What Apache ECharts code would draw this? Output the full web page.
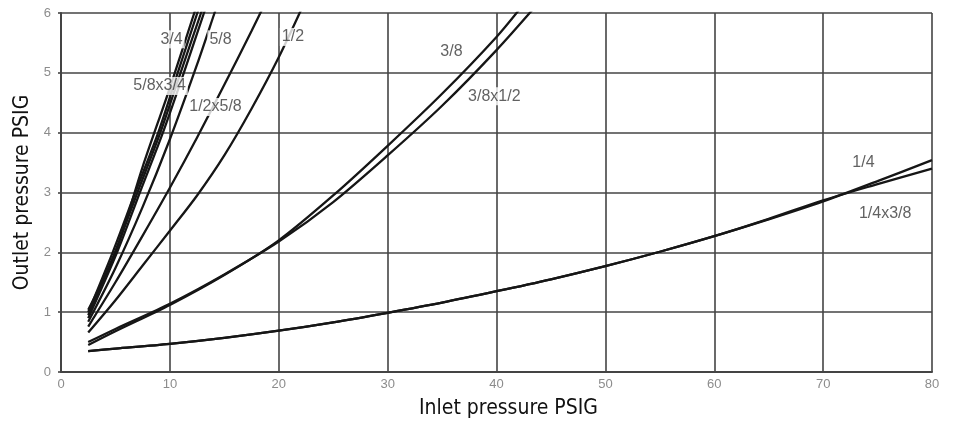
<!DOCTYPE html>
<html>
<head>
<meta charset="utf-8">
<script src="https://cdn.jsdelivr.net/npm/echarts@6/dist/echarts.min.js"></script>
<style>html,body{margin:0;padding:0;background:#fff}#c{width:957px;height:424px}</style>
</head>
<body>
<div id="c"></div>
<script>
// [inlet PSIG, outlet PSIG] points
const s_1_4      = [[2.5,0.35],[5,0.39],[10,0.47],[15,0.57],[20,0.69],[25,0.83],[30,0.99],[35,1.16],[40,1.35],[45,1.55],[50,1.77],[55,2.01],[60,2.27],[65,2.55],[70,2.85],[75,3.19],[80,3.54]];
const s_1_4x3_8  = [[2.5,0.35],[5,0.39],[10,0.47],[15,0.57],[20,0.69],[25,0.83],[30,0.99],[35,1.16],[40,1.35],[45,1.55],[50,1.77],[55,2.01],[60,2.27],[65,2.56],[70,2.87],[75,3.14],[80,3.40]];
const s_3_8      = [[2.5,0.45],[5,0.68],[10,1.12],[15,1.62],[20,2.2],[25,2.95],[30,3.78],[35,4.65],[40,5.6],[42.5,6.15]];
const s_3_8x1_2  = [[2.5,0.50],[5,0.72],[10,1.14],[15,1.63],[20,2.18],[25,2.84],[30,3.62],[35,4.45],[40,5.38],[44,6.2]];
const s_3_4      = [[2.5,1.04],[5,2.0],[7.5,3.43],[10,4.75],[12.24,6],[12.6,6.2]];
const s_3_4b     = [[2.5,1.0],[4.75,2],[6.82,3],[8.93,4],[10.72,5],[12.52,6],[12.9,6.2]];
const s_5_8x3_4  = [[2.5,0.95],[4.95,2],[7.02,3],[9.12,4],[10.98,5],[12.86,6],[13.25,6.2]];
const s_5_8x3_4b = [[2.5,0.9],[5.15,2],[7.24,3],[9.36,4],[11.28,5],[13.13,6],[13.5,6.2]];
const s_5_8      = [[2.5,0.84],[5,1.74],[7.5,2.76],[10,3.89],[12.5,5.14],[14.1,6.0],[14.5,6.22]];
const s_1_2x5_8  = [[2.5,0.76],[5,1.5],[7.5,2.28],[10,3.08],[12.5,3.92],[15,4.8],[17.5,5.7],[19,6.26]];
const s_1_2      = [[2.5,0.66],[5,1.2],[7.5,1.78],[10,2.36],[12.5,2.95],[15,3.62],[17.5,4.4],[20,5.26],[22.5,6.23]];

const curveNames = ['1/4','1/4x3/8','3/8','3/8x1/2','3/4','3/4 b','5/8x3/4','5/8x3/4 b','5/8','1/2x5/8','1/2'];
const curveData  = [s_1_4,s_1_4x3_8,s_3_8,s_3_8x1_2,s_3_4,s_3_4b,s_5_8x3_4,s_5_8x3_4b,s_5_8,s_1_2x5_8,s_1_2];

// curve annotations: inlet, outlet, text
const noteX    = [10.15, 14.65, 21.3, 9.05, 14.19, 35.86, 39.8, 73.7, 75.7];
const noteY    = [5.56, 5.56, 5.6, 4.78, 4.43, 5.36, 4.61, 3.50, 2.65];
const noteText = ['3/4','5/8','1/2','5/8x3/4','1/2x5/8','3/8','3/8x1/2','1/4','1/4x3/8'];

const chart = echarts.init(document.getElementById('c'));
const gridColor = '#444';
const series = curveData.map((d, i) => ({
  name: curveNames[i],
  type: 'line',
  data: d,
  smooth: 0.3,
  showSymbol: false,
  clip: true,
  lineStyle: { color: '#161616', width: 2.3 },
  z: 3
}));
series.push({
  type: 'scatter',
  symbolSize: 0,
  z: 5,
  data: noteText.map((t, i) => ({ name: t, value: [noteX[i], noteY[i]] })),
  label: {
    show: true, position: 'inside', formatter: '{b}',
    fontFamily: 'Liberation Sans, Arial, sans-serif', fontSize: 16,
    color: '#3a3a3a', backgroundColor: '#fff', padding: [1, 2]
  }
});

chart.setOption({
  animation: false,
  backgroundColor: '#fff',
  grid: { left: 61, right: 25, top: 13, bottom: 50 },
  xAxis: {
    type: 'value', min: 0, max: 80, interval: 10,
    name: 'Inlet pressure PSIG', nameLocation: 'middle', nameGap: 26,
    nameTextStyle: { fontFamily: "'Liberation Sans Narrow','DejaVu Sans Condensed','Liberation Sans'", fontSize: 21, color: '#111', padding: [0, 0, 0, 24] },
    axisLine: { lineStyle: { color: gridColor, width: 2 } },
    axisTick: { show: false },
    axisLabel: { color: '#8c8c8c', fontSize: 13, margin: 6, fontFamily: 'Liberation Sans, Arial, sans-serif' },
    splitLine: { lineStyle: { color: gridColor, width: 1.6 } }
  },
  yAxis: {
    type: 'value', min: 0, max: 6, interval: 1,
    name: 'Outlet pressure PSIG', nameLocation: 'middle', nameGap: 28,
    nameTextStyle: { fontFamily: "'Liberation Sans Narrow','DejaVu Sans Condensed','Liberation Sans'", fontSize: 21, color: '#111' },
    axisLine: { show: true, lineStyle: { color: gridColor, width: 2 } },
    axisTick: { show: true, length: 3, lineStyle: { color: gridColor, width: 1.6 } },
    axisLabel: { color: '#8c8c8c', fontSize: 13, margin: 10, fontFamily: 'Liberation Sans, Arial, sans-serif' },
    splitLine: { lineStyle: { color: gridColor, width: 1.6 } }
  },
  series: series
});
</script>
</body>
</html>
